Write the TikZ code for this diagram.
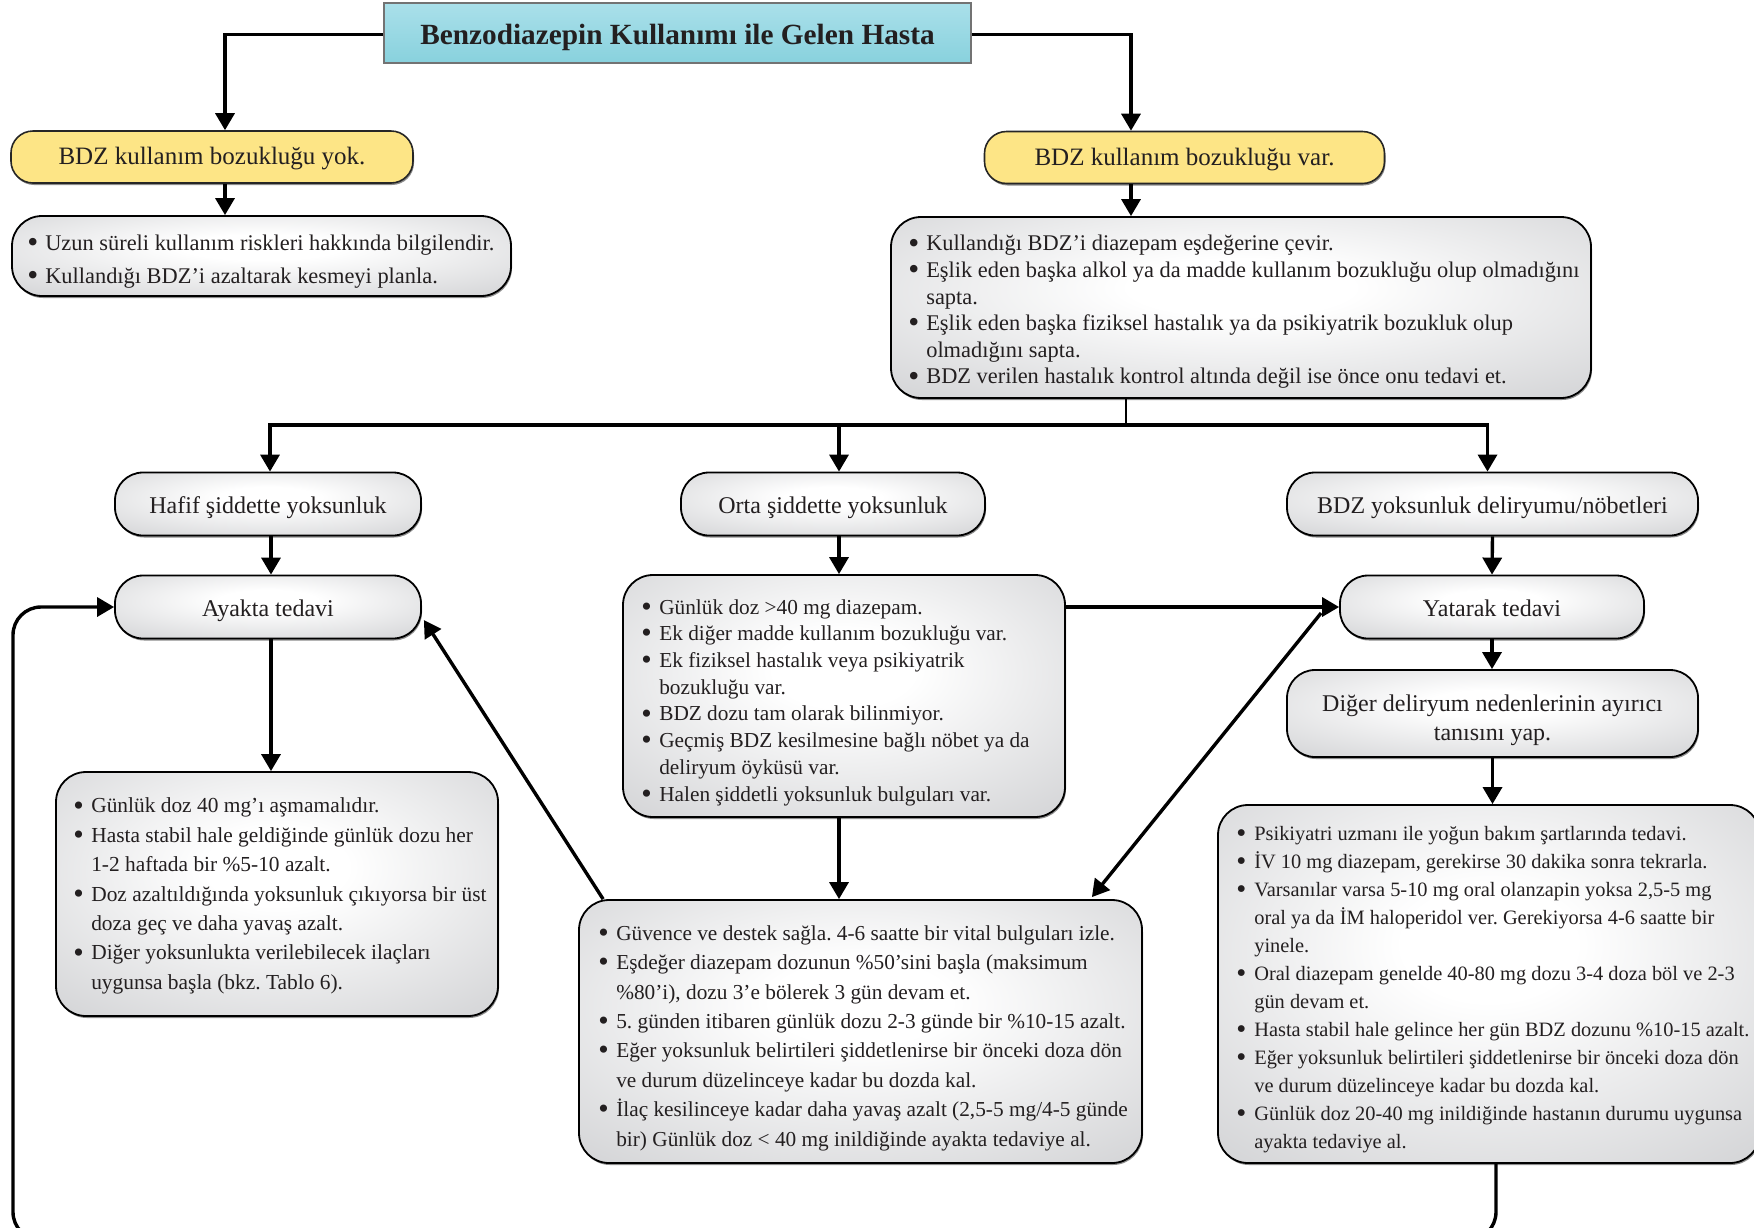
\documentclass[tikz,border=0pt]{standalone}
\usepackage{fontspec}
\setmainfont{Liberation Serif}
\usetikzlibrary{arrows.meta,shadows}

\definecolor{graybox}{RGB}{194,195,198}
\definecolor{yellowbox}{RGB}{253,229,134}
\definecolor{cyantop}{RGB}{170,224,234}
\definecolor{cyanbot}{RGB}{136,209,221}
\definecolor{inkc}{RGB}{35,31,32}

% soft white centre fading to grey at the box border
\pgfdeclareradialshading{boxglow}{\pgfpoint{0bp}{6bp}}{%
  color(0bp)=(white); color(8bp)=(white); color(50bp)=(graybox); color(100bp)=(graybox)}

\newcommand{\itemdot}{\makebox[17pt][l]{\kern-1pt\raisebox{-0.1em}{\scalebox{1.4}{\textbullet}}}}
\newcommand{\itemgap}{\hspace*{17pt}}

\tikzset{
  conn/.style={line width=3.4pt, draw=black, -{Triangle[length=17pt,width=19pt]}},
  stem/.style={line width=2.2pt, draw=black},
  boxshadow/.style={drop shadow={shadow xshift=1pt, shadow yshift=-2pt, fill=black, opacity=0.45}},
  graybase/.style={draw=black, line width=1.8pt, shading=boxglow, boxshadow, inner sep=0pt},
  pill/.style={graybase, rounded corners=28pt, font=\fontsize{24}{29}\selectfont, text=inkc, align=center,
    text height=19.5pt, text depth=0pt},
  listbox/.style={graybase, rounded corners=30pt},
  listtext/.style={anchor=west, align=left, inner sep=0pt, text=inkc},
  goldbox/.style={draw=black!85, line width=1.6pt, fill=yellowbox, boxshadow, rounded corners=22pt,
    font=\fontsize{25}{30}\selectfont, text=inkc, inner sep=0pt, text height=15pt, text depth=0pt},
  headbox/.style={draw=black!55, line width=1.6pt, top color=cyantop, bottom color=cyanbot,
    font=\bfseries\fontsize{29.3}{34}\selectfont, text=inkc, inner sep=0pt, text height=23.5pt, text depth=0pt}
}

\begin{document}
\frenchspacing
\begin{tikzpicture}[x=1pt,y=-1pt]
\useasboundingbox (0,0) rectangle (1754,1227);
\clip (0,0) rectangle (1754,1227);

% ---- boxes ----
\node[headbox, minimum width=587pt, minimum height=60pt] (title) at (677.5,33) {Benzodiazepin Kullanımı ile Gelen Hasta};

\node[goldbox, minimum width=402pt, minimum height=52pt] (yok) at (212,157) {BDZ kullanım bozukluğu yok.};
\node[goldbox, minimum width=400pt, minimum height=52pt] (var) at (1184.5,157.5) {BDZ kullanım bozukluğu var.};

\node[listbox, minimum width=499pt, minimum height=80pt] (adv1) at (261.5,256) {};
\node[listtext, font=\fontsize{22.4}{32.4}\selectfont] (adv1t) at ([xshift=17pt,yshift=-5.5pt]adv1.west) {%
\itemdot Uzun süreli kullanım riskleri hakkında bilgilendir.\\
\itemdot Kullandığı BDZ’i azaltarak kesmeyi planla.};

\node[listbox, minimum width=700pt, minimum height=181pt] (adv2) at (1241,307.5) {};
\node[listtext, font=\fontsize{22.4}{26.6}\selectfont] (adv2t) at ([xshift=19pt,yshift=-4.5pt]adv2.west) {%
\itemdot Kullandığı BDZ’i diazepam eşdeğerine çevir.\\
\itemdot Eşlik eden başka alkol ya da madde kullanım bozukluğu olup olmadığını\\
\itemgap sapta.\\
\itemdot Eşlik eden başka fiziksel hastalık ya da psikiyatrik bozukluk olup\\
\itemgap olmadığını sapta.\\
\itemdot BDZ verilen hastalık kontrol altında değil ise önce onu tedavi et.};

\node[pill, minimum width=306pt, minimum height=63pt] (hafif) at (268,504) {Hafif şiddette yoksunluk};
\node[pill, minimum width=304pt, minimum height=63pt] (orta) at (833,504) {Orta şiddette yoksunluk};
\node[pill, minimum width=411pt, minimum height=63pt] (delir) at (1492.5,504) {BDZ yoksunluk deliryumu/nöbetleri};

\node[pill, minimum width=306pt, minimum height=63pt] (ayakta) at (268,607) {Ayakta tedavi};
\node[pill, minimum width=304pt, minimum height=63pt] (yatarak) at (1492,607) {Yatarak tedavi};
\node[pill, minimum width=411pt, minimum height=87pt, text height=54pt, text depth=0pt] (diger) at (1492.5,713.5) {Diğer deliryum nedenlerinin ayırıcı\\tanısını yap.};

\node[listbox, minimum width=442pt, minimum height=244pt] (outlist) at (277,894) {};
\node[listtext, font=\fontsize{21.4}{29.4}\selectfont] (outlistt) at ([xshift=19pt,yshift=-2pt]outlist.west) {%
\itemdot Günlük doz 40 mg’ı aşmamalıdır.\\
\itemdot Hasta stabil hale geldiğinde günlük dozu her\\
\itemgap 1-2 haftada bir \%5-10 azalt.\\
\itemdot Doz azaltıldığında yoksunluk çıkıyorsa bir üst\\
\itemgap doza geç ve daha yavaş azalt.\\
\itemdot Diğer yoksunlukta verilebilecek ilaçları\\
\itemgap uygunsa başla (bkz. Tablo 6).};

\node[listbox, minimum width=442pt, minimum height=242pt] (crit) at (844,696) {};
\node[listtext, font=\fontsize{21.3}{26.7}\selectfont] (critt) at ([xshift=20pt,yshift=-6.5pt]crit.west) {%
\itemdot Günlük doz >40 mg diazepam.\\
\itemdot Ek diğer madde kullanım bozukluğu var.\\
\itemdot Ek fiziksel hastalık veya psikiyatrik\\
\itemgap bozukluğu var.\\
\itemdot BDZ dozu tam olarak bilinmiyor.\\
\itemdot Geçmiş BDZ kesilmesine bağlı nöbet ya da\\
\itemgap deliryum öyküsü var.\\
\itemdot Halen şiddetli yoksunluk bulguları var.};

\node[listbox, minimum width=563pt, minimum height=263pt] (inlist) at (860.5,1031.5) {};
\node[listtext, font=\fontsize{21.3}{29.4}\selectfont] (inlistt) at ([xshift=21pt,yshift=-6.5pt]inlist.west) {%
\itemdot Güvence ve destek sağla. 4-6 saatte bir vital bulguları izle.\\
\itemdot Eşdeğer diazepam dozunun \%50’sini başla (maksimum\\
\itemgap \%80’i), dozu 3’e bölerek 3 gün devam et.\\
\itemdot 5. günden itibaren günlük dozu 2-3 günde bir \%10-15 azalt.\\
\itemdot Eğer yoksunluk belirtileri şiddetlenirse bir önceki doza dön\\
\itemgap ve durum düzelinceye kadar bu dozda kal.\\
\itemdot İlaç kesilinceye kadar daha yavaş azalt (2,5-5 mg/4-5 günde\\
\itemgap bir) Günlük doz < 40 mg inildiğinde ayakta tedaviye al.};

\node[listbox, minimum width=542pt, minimum height=358pt] (icu) at (1489,984) {};
\node[listtext, font=\fontsize{20.4}{28}\selectfont] (icut) at ([xshift=20pt,yshift=-5.5pt]icu.west) {%
\itemdot Psikiyatri uzmanı ile yoğun bakım şartlarında tedavi.\\
\itemdot İV 10 mg diazepam, gerekirse 30 dakika sonra tekrarla.\\
\itemdot Varsanılar varsa 5-10 mg oral olanzapin yoksa 2,5-5 mg\\
\itemgap oral ya da İM haloperidol ver. Gerekiyorsa 4-6 saatte bir\\
\itemgap yinele.\\
\itemdot Oral diazepam genelde 40-80 mg dozu 3-4 doza böl ve 2-3\\
\itemgap gün devam et.\\
\itemdot Hasta stabil hale gelince her gün BDZ dozunu \%10-15 azalt.\\
\itemdot Eğer yoksunluk belirtileri şiddetlenirse bir önceki doza dön\\
\itemgap ve durum düzelinceye kadar bu dozda kal.\\
\itemdot Günlük doz 20-40 mg inildiğinde hastanın durumu uygunsa\\
\itemgap ayakta tedaviye al.};

% ---- connectors ----
\draw[conn] ([yshift=-1.5pt]title.west) -| ([xshift=13pt]yok.north);
\draw[conn] ([yshift=-1.5pt]title.east) -| ([xshift=-53.5pt]var.north);
\draw[conn] ([xshift=13pt]yok.south) -- ([xshift=13pt]yok.south |- adv1.north);
\draw[conn] ([xshift=-53.5pt]var.south) -- ([xshift=-53.5pt]var.south |- adv2.north);

\coordinate (bus) at (1126,425);
\draw[stem] (adv2.south -| bus) -- (bus);
\draw[conn] (bus) -| ([xshift=2pt]hafif.north);
\draw[conn] (bus) -| ([xshift=-5pt]delir.north);
\draw[conn] ([xshift=6pt]orta.north |- bus) -- ([xshift=6pt]orta.north);

\draw[conn] ([xshift=3pt]hafif.south) -- ([xshift=3pt]ayakta.north);
\draw[conn] ([xshift=3pt]ayakta.south) -- ([xshift=3pt]ayakta.south |- outlist.north);
\draw[conn] ([xshift=6pt]orta.south) -- ([xshift=6pt]orta.south |- crit.north);
\draw[conn] ([xshift=6pt]orta.south |- crit.south) -- ([xshift=6pt]orta.south |- inlist.north);
\draw[conn] (delir.south) -- (yatarak.north);
\draw[conn] (yatarak.south) -- (yatarak.south |- diger.north);
\draw[conn] (diger.south) -- (diger.south |- icu.north);

\draw[conn] (crit.east |- yatarak.west) -- (yatarak.west);
\draw[conn] ([xshift=-18pt,yshift=-6pt]yatarak.west) -- ([xshift=-51pt,yshift=2pt]inlist.north east);
\draw[conn] ([xshift=25pt]inlist.north west) -- ([xshift=2pt,yshift=-13pt]ayakta.east);

% return path from inpatient care back to outpatient care
\coordinate (loopL) at (13,1240);
\draw[conn, rounded corners=28pt] ([xshift=7pt]icu.south) -- ([xshift=7pt]icu.south |- loopL) -- (loopL)
  -- (loopL |- ayakta.west) -- (ayakta.west);
\end{tikzpicture}
\end{document}
